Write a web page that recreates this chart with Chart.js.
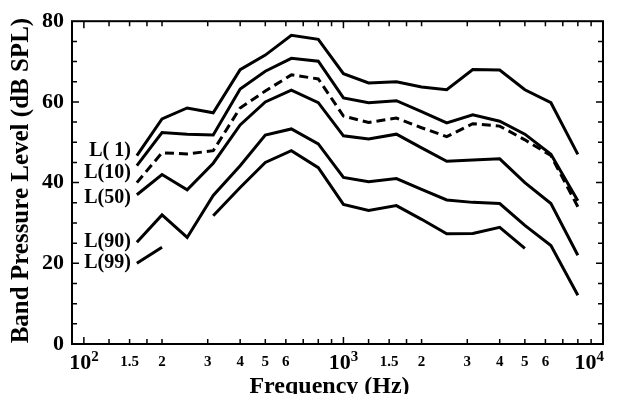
<!DOCTYPE html>
<html>
<head>
<meta charset="utf-8">
<script src="https://cdn.jsdelivr.net/npm/chart.js@4.4.1/dist/chart.umd.min.js"></script>
<style>
  body { margin: 0; background: #fff; }
  canvas { display: block; }
</style>
</head>
<body>
<canvas id="bandChart" width="621" height="394"></canvas>
<script>
// Third-octave band centre frequencies (Hz)
const freqs = [160, 200, 250, 315, 400, 500, 630, 800, 1000, 1250, 1600, 2000, 2500, 3150, 4000, 5000, 6300, 8000];

// Band pressure levels (dB SPL)
const level1  = [46.7, 55.8, 58.5, 57.3, 68, 71.6, 76.5, 75.5, 67, 64.7, 65, 63.7, 63, 68, 67.9, 63, 59.8, 47];
const level10 = [44.2, 52.4, 52, 51.8, 63.2, 67.6, 70.8, 70.1, 61, 59.8, 60.3, 57.6, 54.8, 56.8, 55.2, 52, 47, 35.5];
const levelMean = [40, 47.4, 47.1, 47.9, 58.5, 62.7, 66.7, 65.7, 56.5, 54.9, 56, 53.6, 51.4, 54.6, 54, 50.6, 46.7, 34];
const level50 = [37, 42, 38.2, 44.8, 54.3, 60, 62.9, 59.8, 51.6, 50.8, 52, 48.6, 45.3, 45.6, 45.9, 40, 34.8, 22];
const level90 = [25.2, 32, 26.4, 36.8, 44.2, 51.8, 53.3, 49.6, 41.3, 40.2, 41, 38.3, 35.7, 35.1, 34.8, 29.4, 24.4, 12.1];
const level99 = [20, 24, null, 31.8, 38.8, 45, 47.9, 43.7, 34.6, 33.1, 34.3, 30.9, 27.3, 27.4, 28.9, 23.7, null, null];

// Curve labels and the level they sit at
const curveLabels = ["L( 1)", "L(10)", "L(50)", "L(90)", "L(99)"];
const curveLabelLevels = [47.9, 42.5, 36.3, 25.2, 20];

// Axis ticks
const yTicks = [0, 20, 40, 60, 80];
const xDecades = [100, 1000, 10000];
const xMantissas = [1.5, 2, 3, 4, 5, 6];
const xMinorMantissas = [1.25, 1.5, 1.75, 2, 3, 4, 5, 6, 7, 8, 9];

const serif = "'Liberation Serif', 'Times New Roman', serif";

function series(values) {
  return freqs.map((f, i) => ({ x: f, y: values[i] }));
}

function lineSet(label, values, dashed) {
  return {
    label: label,
    data: series(values),
    borderColor: "#000",
    borderWidth: 3,
    borderDash: dashed ? [9, 5] : [],
    pointRadius: 0,
    tension: 0,
    fill: false,
    spanGaps: false,
  };
}

// Frame, inward ticks, x tick labels with exponents, titles, curve labels
const decorPlugin = {
  id: "decor",
  afterDraw(chart) {
    const ctx = chart.ctx;
    const area = chart.chartArea;
    const xs = chart.scales.x;
    const ys = chart.scales.y;
    ctx.save();
    ctx.strokeStyle = "#000";
    ctx.fillStyle = "#000";

    // box
    ctx.lineWidth = 2;
    ctx.strokeRect(area.left, area.top, area.right - area.left, area.bottom - area.top);

    // x ticks top and bottom
    ctx.lineWidth = 1.5;
    const xTickValues = [];
    for (let d = 100; d <= 1000; d *= 10) {
      xMinorMantissas.forEach(m => xTickValues.push(m * d));
    }
    xTickValues.concat(xDecades).forEach(v => {
      const px = xs.getPixelForValue(v);
      const len = xDecades.includes(v) ? 7 : 5;
      ctx.beginPath();
      ctx.moveTo(px, area.bottom);
      ctx.lineTo(px, area.bottom - len);
      ctx.moveTo(px, area.top);
      ctx.lineTo(px, area.top + len);
      ctx.stroke();
    });

    // y ticks left and right, every 5 dB
    for (let v = 5; v < 80; v += 5) {
      const py = ys.getPixelForValue(v);
      const len = v % 20 === 0 ? 7 : 5;
      ctx.beginPath();
      ctx.moveTo(area.left, py);
      ctx.lineTo(area.left + len, py);
      ctx.moveTo(area.right, py);
      ctx.lineTo(area.right - len, py);
      ctx.stroke();
    }

    // x tick labels
    ctx.textBaseline = "alphabetic";
    const labelBase = area.bottom + 25;
    xDecades.forEach((d, i) => {
      const px = xs.getPixelForValue(d);
      const exp = String(Math.round(Math.log10(d)));
      ctx.font = "bold 22px " + serif;
      const wMain = ctx.measureText("10").width;
      ctx.font = "bold 15px " + serif;
      const wExp = ctx.measureText(exp).width;
      let left = px - (wMain + wExp) / 2;
      if (left + wMain + wExp > area.right + 1) left = area.right + 1 - wMain - wExp;
      ctx.textAlign = "left";
      ctx.font = "bold 22px " + serif;
      ctx.fillText("10", left, labelBase);
      ctx.font = "bold 15px " + serif;
      ctx.fillText(exp, left + wMain, labelBase - 8);
      if (i < xDecades.length - 1) {
        ctx.textAlign = "center";
        ctx.font = "bold 15px " + serif;
        xMantissas.forEach(m => {
          ctx.fillText(String(m), xs.getPixelForValue(m * d), labelBase - 3);
        });
      }
    });

    // axis titles
    ctx.font = "bold 24px " + serif;
    ctx.textAlign = "center";
    ctx.fillText("Frequency (Hz)", (area.left + area.right) / 2 - 8, 393);
    ctx.save();
    ctx.font = "bold 25px " + serif;
    ctx.translate(28, (area.top + area.bottom) / 2 - 2);
    ctx.rotate(-Math.PI / 2);
    ctx.fillText("Band Pressure Level (dB SPL)", 0, 0);
    ctx.restore();

    // curve labels
    ctx.font = "bold 20px " + serif;
    ctx.textAlign = "right";
    ctx.textBaseline = "middle";
    const labelRight = xs.getPixelForValue(freqs[0]) - 6;
    curveLabels.forEach((t, i) => {
      ctx.fillText(t, labelRight, ys.getPixelForValue(curveLabelLevels[i]));
    });
    ctx.restore();
  },
};

new Chart(document.getElementById("bandChart"), {
  type: "line",
  data: {
    datasets: [
      lineSet("L(1)", level1, false),
      lineSet("L(10)", level10, false),
      lineSet("mean", levelMean, true),
      lineSet("L(50)", level50, false),
      lineSet("L(90)", level90, false),
      lineSet("L(99)", level99, false),
    ],
  },
  options: {
    responsive: false,
    animation: false,
    layout: { padding: { top: 20, right: 18, left: 0, bottom: 0 } },
    plugins: {
      legend: { display: false },
      tooltip: { enabled: false },
    },
    scales: {
      x: {
        type: "logarithmic",
        min: 90,
        max: 10000,
        grid: { display: false, drawTicks: false },
        border: { display: false },
        ticks: { display: false },
        afterFit(scale) { scale.height = 50; },
      },
      y: {
        min: 0,
        max: 80,
        afterBuildTicks(scale) { scale.ticks = yTicks.map(v => ({ value: v })); },
        grid: { display: false, drawTicks: false },
        border: { display: false },
        ticks: {
          color: "#000",
          padding: 8,
          font: { family: serif, size: 22, weight: "bold" },
        },
        afterFit(scale) { scale.width = 72; },
      },
    },
  },
  plugins: [decorPlugin],
});
</script>
</body>
</html>
